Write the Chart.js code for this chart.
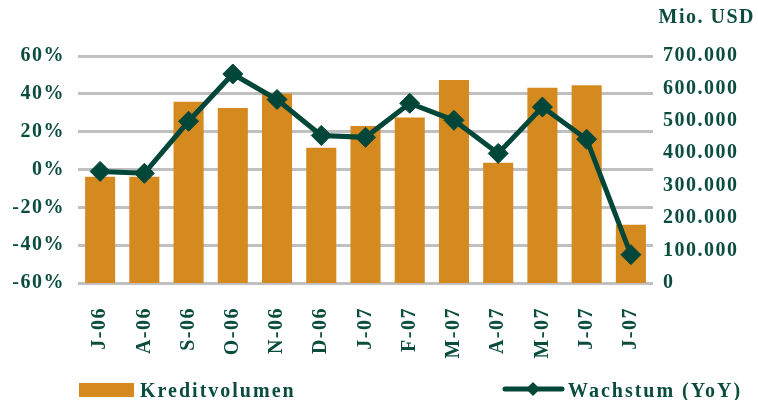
<!DOCTYPE html>
<html>
<head>
<meta charset="utf-8">
<script src="https://cdn.jsdelivr.net/npm/chart.js@4.4.1/dist/chart.umd.min.js"></script>
<style>
  html, body { margin: 0; padding: 0; background: #fff; }
</style>
</head>
<body>
<canvas id="myChart" width="758" height="400"></canvas>
<script>
// values
const months = ['J-06', 'A-06', 'S-06', 'O-06', 'N-06', 'D-06', 'J-07', 'F-07', 'M-07', 'A-07', 'M-07', 'J-07', 'J-07'];
const kreditvolumen = [328000, 328000, 559000, 540000, 584000, 417000, 484000, 510000, 626000, 371000, 602000, 610000, 180000];
const wachstum = [-1, -2, 25.5, 50.5, 37, 18, 17, 35, 26, 8.5, 33, 16, -45];
const growthTicks = [-60, -40, -20, 0, 20, 40, 60];
const volumeTicks = [0, 100000, 200000, 300000, 400000, 500000, 600000, 700000];

const GREEN = '#0b4d3d';
const LINE = '#00473a';
const ORANGE = '#d58a1f';
const GRID = '#c0c0c0';
const FONT = "'Liberation Serif', 'Times New Roman', serif";
const font = { family: FONT, size: 20, weight: 'bold' };

// the original text is set a bit wide
const spacing = {
  id: 'spacing',
  beforeLayout(chart) { chart.ctx.letterSpacing = '1.5px'; },
  beforeDraw(chart) { chart.ctx.letterSpacing = '1.5px'; }
};

// legend sits spread out under the axis, so draw it by hand
const bottomLegend = {
  id: 'bottomLegend',
  afterDraw(chart) {
    const ctx = chart.ctx;
    const line = chart.data.datasets[0];
    const bar = chart.data.datasets[1];
    ctx.save();
    ctx.font = 'bold 20px ' + FONT;
    ctx.letterSpacing = '2px';
    ctx.textBaseline = 'alphabetic';

    ctx.fillStyle = bar.backgroundColor;
    ctx.fillRect(79, 383, 55, 14);
    ctx.fillStyle = GREEN;
    ctx.fillText(bar.label, 140, 397);

    ctx.strokeStyle = line.borderColor;
    ctx.lineWidth = 5;
    ctx.lineCap = 'round';
    ctx.beginPath();
    ctx.moveTo(505, 389);
    ctx.lineTo(562, 389);
    ctx.stroke();
    ctx.fillStyle = line.borderColor;
    ctx.beginPath();
    ctx.moveTo(533, 382);
    ctx.lineTo(540, 389);
    ctx.lineTo(533, 396);
    ctx.lineTo(526, 389);
    ctx.closePath();
    ctx.fill();
    ctx.fillStyle = GREEN;
    ctx.fillText(line.label, 568, 397);
    ctx.restore();
  }
};

const fmtVolume = v => v === 0 ? '0' : (v / 1000) + '.000';

new Chart(document.getElementById('myChart'), {
  type: 'bar',
  data: {
    labels: months,
    datasets: [{
      type: 'line',
      label: 'Wachstum (YoY)',
      data: wachstum,
      yAxisID: 'y',
      borderColor: LINE,
      backgroundColor: LINE,
      borderWidth: 5,
      pointStyle: 'rectRot',
      pointRadius: 10,
      pointBackgroundColor: LINE,
      pointBorderColor: LINE,
      pointBorderWidth: 1,
      tension: 0,
      order: 0
    }, {
      type: 'bar',
      label: 'Kreditvolumen',
      data: kreditvolumen,
      yAxisID: 'y2',
      backgroundColor: ORANGE,
      barPercentage: 0.68,
      categoryPercentage: 1,
      order: 1
    }]
  },
  options: {
    responsive: false,
    animation: false,
    devicePixelRatio: 1,
    layout: { padding: { left: 0, right: 3, top: 0, bottom: 0 } },
    plugins: {
      legend: { display: false },
      tooltip: { enabled: false },
      title: {
        display: true,
        text: 'Mio. USD',
        align: 'end',
        color: GREEN,
        font: font,
        padding: { top: 6, bottom: 26 }
      }
    },
    scales: {
      x: {
        grid: { display: false },
        border: { display: false },
        ticks: { color: GREEN, font: font, minRotation: 90, maxRotation: 90, autoSkip: false, padding: 16 },
        afterFit: s => { s.height = 117; }
      },
      y: {
        position: 'left',
        min: -60,
        max: 60,
        afterBuildTicks: s => { s.ticks = growthTicks.map(v => ({ value: v })); },
        grid: { color: GRID, lineWidth: 3, drawTicks: false },
        border: { display: false },
        ticks: { color: GREEN, font: font, padding: 13, callback: v => v + '%' },
        afterFit: s => { s.width = 78; }
      },
      y2: {
        position: 'right',
        min: 0,
        max: 700000,
        afterBuildTicks: s => { s.ticks = volumeTicks.map(v => ({ value: v })); },
        grid: { display: false, drawTicks: false },
        border: { display: false },
        ticks: { color: GREEN, font: font, padding: 10, callback: fmtVolume },
        afterFit: s => { s.width = 102; }
      }
    }
  },
  plugins: [spacing, bottomLegend]
});
</script>
</body>
</html>
